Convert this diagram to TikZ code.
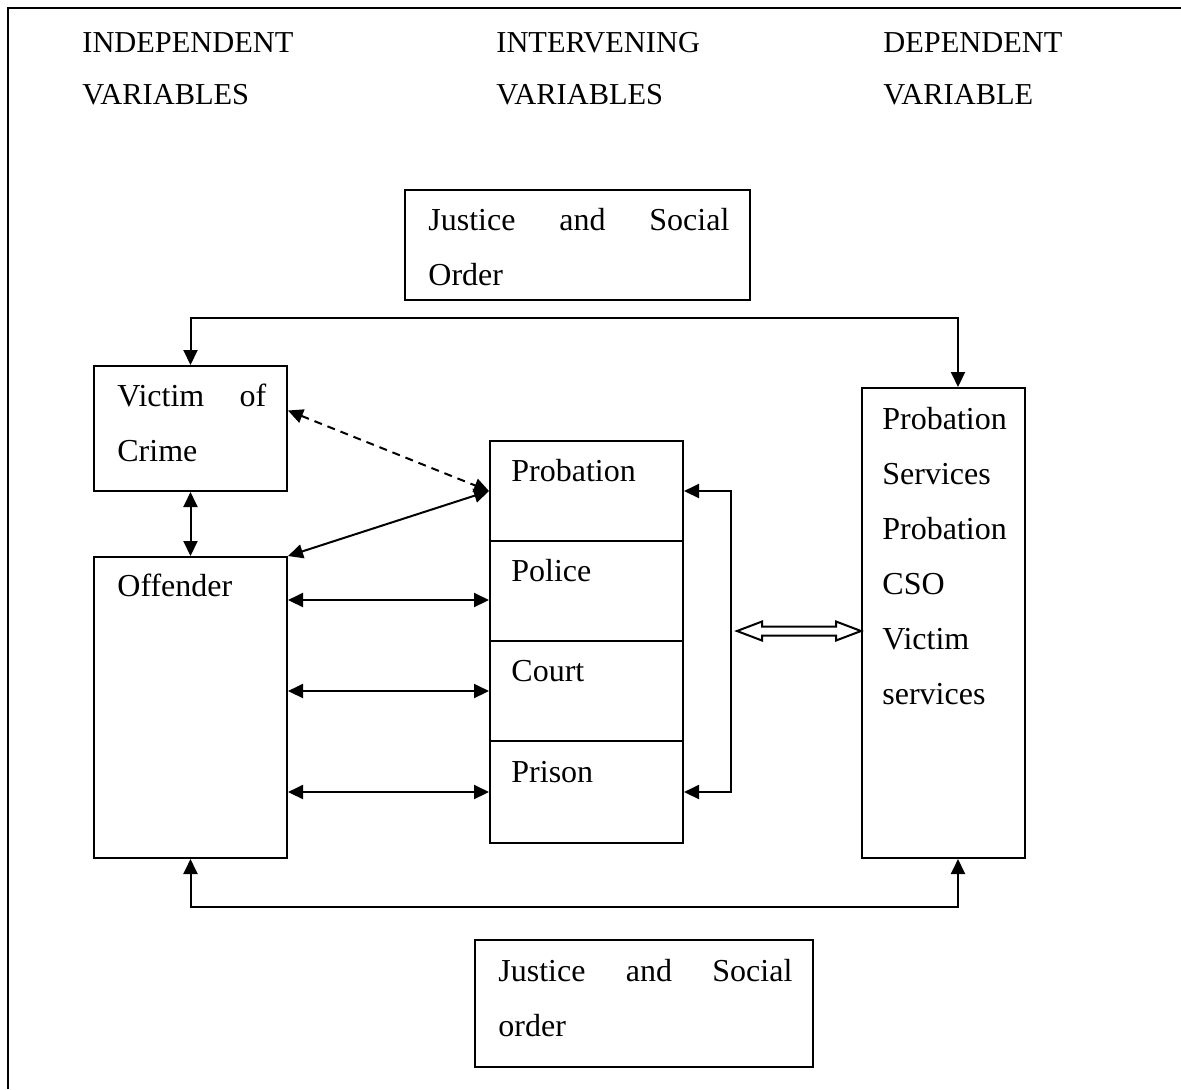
\documentclass[tikz,border=0pt]{standalone}
\usepackage{fontspec}
\setmainfont{Liberation Serif}
\usetikzlibrary{arrows.meta,fit}
\setlength{\parindent}{0pt}

\tikzset{
  box/.style={draw, line width=1pt, inner sep=0pt},
  txt/.style={anchor=base west, inner sep=0pt, align=left, font=\fontsize{16}{27.5}\selectfont},
  head/.style={txt, text width=130pt, font=\fontsize{15.2}{26}\selectfont},
  link/.style={line width=1pt, <->},
  hollow/.style={line width=1pt, fill=white, line join=miter},
}

\begin{document}
\begin{tikzpicture}[x=0.5pt, y=-0.5pt, >={Triangle[length=7.5pt,width=7pt]}]
  \useasboundingbox (0,0) rectangle (1181,1089);
  % page frame
  \draw[line width=1pt] (8,1089) -- (8,8) -- (1181,8);

  % column heads
  \node[head] (indep) at (82,52) {INDEPENDENT\\VARIABLES};
  \node[head] (interv) at (496,52) {INTERVENING\\VARIABLES};
  \node[head] (depend) at (883,52) {DEPENDENT\\VARIABLE};

  % boxes
  \node[box, fit={(405,190) (750,300)}] (jtop) {};
  \node[txt, text width=150.5pt] (jtoptxt) at (428,230) {Justice\hfill and\hfill Social\\Order};
  \node[box, fit={(94,366) (287,491)}] (victim) {};
  \node[txt, text width=74.5pt] (victimtxt) at (117,406) {Victim\hfill of\\Crime};
  \node[box, fit={(94,557) (287,858)}] (offender) {};
  \node[txt] (offendertxt) at (117,596) {Offender};

  \node[box, fit={(490,441) (683,541)}] (prob) {};
  \node[box, fit={(490,541) (683,641)}] (police) {};
  \node[box, fit={(490,641) (683,741)}] (court) {};
  \node[box, fit={(490,741) (683,843)}] (prison) {};
  \node[txt] (probtxt) at (511,481) {Probation};
  \node[txt] (policetxt) at (511,581) {Police};
  \node[txt] (courttxt) at (511,681) {Court};
  \node[txt] (prisontxt) at (511,782) {Prison};

  \node[box, fit={(862,388) (1025,858)}] (dep) {};
  \node[txt, text width=80pt] (deptxt) at (882,429) {Probation\\Services\\Probation\\CSO\\Victim\\services};
  \node[box, fit={(475,940) (813,1067)}] (jbot) {};
  \node[txt, text width=147pt] (jbottxt) at (498,981) {Justice\hfill and\hfill Social\\order};

  % connectors
  \coordinate (topbar) at (958,318);
  \coordinate (botbar) at (958,907);
  \draw[link] (victim.north) |- (topbar) -- (topbar |- dep.north);
  \draw[link] (offender.south) |- (botbar) -- (botbar |- dep.south);
  \draw[link] (victim.south) -- (offender.north);
  \draw[link, dash pattern=on 4pt off 3pt] ([yshift=9pt]victim.east) -- (prob.west);
  \draw[link] (offender.north east) -- (prob.west);
  \coordinate (polrow) at ([yshift=-4.5pt]police.west);
  \draw[link] (offender.east |- polrow) -- (polrow);
  \draw[link] (offender.east |- court.west) -- (court.west);
  \draw[link] (offender.east |- prison.west) -- (prison.west);
  \draw[link] (prob.east) -- ++(47,0) |- (prison.east);

  % hollow double arrow
  \coordinate (ha) at (737,631);
  \coordinate (hb) at (ha -| dep.west);
  \draw[hollow] (ha) -- ([shift={(25,-9.5)}]ha) -- ([shift={(25,-4.5)}]ha)
    -- ([shift={(-25,-4.5)}]hb) -- ([shift={(-25,-9.5)}]hb) -- (hb)
    -- ([shift={(-25,9.5)}]hb) -- ([shift={(-25,4.5)}]hb)
    -- ([shift={(25,4.5)}]ha) -- ([shift={(25,9.5)}]ha) -- cycle;
\end{tikzpicture}
\end{document}
